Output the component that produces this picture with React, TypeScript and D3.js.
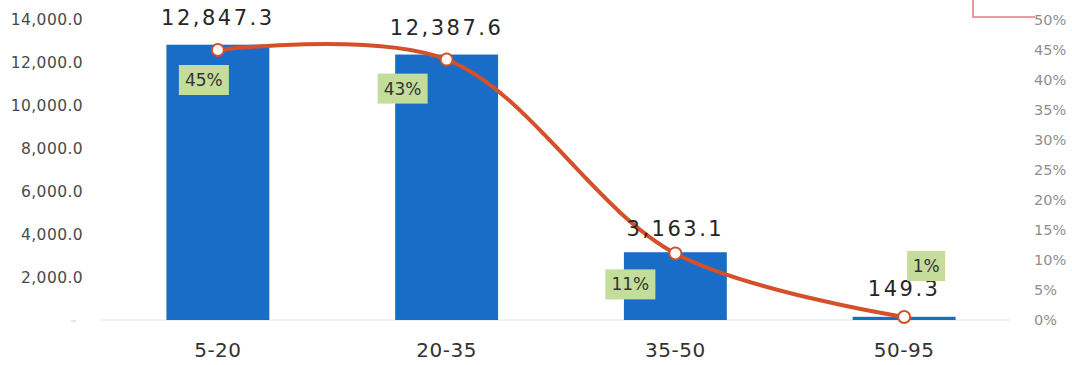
import React from "react";
import * as d3 from "d3";

const categories = ["5-20", "20-35", "35-50", "50-95"];
const values = [12847.3, 12387.6, 3163.1, 149.3];
const shares = [0.45, 0.434, 0.111, 0.005];
const shareLabels = ["45%", "43%", "11%", "1%"];
const leftTicks = [2000, 4000, 6000, 8000, 10000, 12000, 14000];
const rightTicks = [0, 0.05, 0.1, 0.15, 0.2, 0.25, 0.3, 0.35, 0.4, 0.45, 0.5];

// label offsets (layout, relative to the point)
const shareLabelOffsets = [
  [-14, 30],
  [-44, 29],
  [-45, 31],
  [22, -51],
];
const valueLabelOffsets = [-32, -32, -25, -28];

const W = 1072;
const H = 365;
const FONT = "'DejaVu Sans', sans-serif";

export default function App() {
  const x = d3
    .scaleBand<string>()
    .domain(categories)
    .range([103.5, 1018.5])
    .paddingInner(0.55)
    .paddingOuter(0.275);
  const yL = d3.scaleLinear().domain([0, 14000]).range([320, 20]);
  const yR = d3.scaleLinear().domain([0, 0.5]).range([320, 20]);
  const cx = (c: string) => (x(c) as number) + x.bandwidth() / 2;

  const pts: [number, number][] = categories.map((c, i) => [cx(c), yR(shares[i])]);
  const line = d3.line().curve(d3.curveCatmullRom.alpha(0.5))(pts) as string;
  const fmt = d3.format(",.1f");

  return (
    <svg width={W} height={H} style={{ position: "absolute", left: 0, top: 0, background: "#fff" }}>
      {/* annotation mark */}
      <path d="M973,0 V17 H1035" fill="none" stroke="#e0485a" strokeWidth={1.5} opacity={0.75} />
      {/* baseline */}
      <line x1={100} x2={1010} y1={320} y2={320} stroke="#eeeeee" strokeWidth={1.5} />
      <line x1={71} x2={76} y1={321} y2={321} stroke="#cccccc" strokeWidth={1} />
      {/* left axis */}
      {leftTicks.map((t) => (
        <text key={t} x={83} y={yL(t)} dy="0.35em" textAnchor="end" fontFamily={FONT} fontSize={15.5} letterSpacing={0.4} fill="#4a4a4a">
          {fmt(t)}
        </text>
      ))}
      {/* right axis */}
      {rightTicks.map((t) => (
        <text key={t} x={1034} y={yR(t)} dy="0.35em" textAnchor="start" fontFamily={FONT} fontSize={14.5} fill="#8f8f8f">
          {d3.format(".0%")(t)}
        </text>
      ))}
      {/* bars */}
      {categories.map((c, i) => (
        <rect key={c} x={x(c)} y={yL(values[i])} width={x.bandwidth()} height={Math.max(2, yL(0) - yL(values[i]))} fill="#1a6dc6" />
      ))}
      {/* category labels */}
      {categories.map((c) => (
        <text key={c} x={cx(c)} y={350} dy="0.35em" textAnchor="middle" fontFamily={FONT} fontSize={20} letterSpacing={0.5} fill="#333">
          {c}
        </text>
      ))}
      {/* line */}
      <path d={line} fill="none" stroke="#d4502a" strokeWidth={4} strokeLinecap="round" />
      {pts.map(([px, py], i) => (
        <circle key={i} cx={px} cy={py} r={6} fill="#fff" stroke="#d4502a" strokeWidth={2} />
      ))}
      {/* value labels */}
      {pts.map(([px, py], i) => (
        <text key={i} x={px} y={py + valueLabelOffsets[i]} dy="0.35em" textAnchor="middle" fontFamily={FONT} fontSize={21} letterSpacing={2.5} fill="#262626">
          {fmt(values[i])}
        </text>
      ))}
      {/* share labels */}
      {pts.map(([px, py], i) => {
        const lx = px + shareLabelOffsets[i][0];
        const ly = py + shareLabelOffsets[i][1];
        const w = shareLabels[i].length * 12 + 14;
        return (
          <g key={i}>
            <rect x={lx - w / 2} y={ly - 15} width={w} height={30} fill="#c4dd9a" />
            <text x={lx} y={ly} dy="0.35em" textAnchor="middle" fontFamily={FONT} fontSize={17} fill="#333">
              {shareLabels[i]}
            </text>
          </g>
        );
      })}
    </svg>
  );
}
